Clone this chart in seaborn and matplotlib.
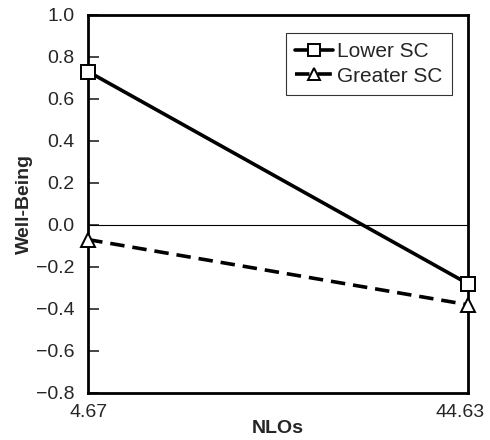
import numpy as np
import pandas as pd
import matplotlib
matplotlib.use("Agg")
import matplotlib.pyplot as plt
import matplotlib.transforms as mtransforms
import seaborn as sns

nlos = [4.67, 44.63]
lower_sc = [0.73, -0.28]
greater_sc = [-0.07, -0.38]
groups = ["Lower SC", "Greater SC"]
yticks = [-0.8, -0.6, -0.4, -0.2, 0.0, 0.2, 0.4, 0.6, 0.8, 1.0]

df = pd.DataFrame({
    "NLOs": nlos * 2,
    "Well-Being": lower_sc + greater_sc,
    "group": [groups[0]] * 2 + [groups[1]] * 2,
})

sns.set_style("ticks")
plt.rcParams["font.family"] = ["Liberation Sans", "DejaVu Sans"]

fig = plt.figure(figsize=(4.9, 4.4), dpi=100)
ax = fig.add_axes([0.18, 0.107, 0.775, 0.859])

ax.axhline(0, color="black", lw=0.8, zorder=1)

styles = {
    "Lower SC": dict(marker="s", linestyle="-"),
    "Greater SC": dict(marker="^", linestyle=(0, (4, 2.2))),
}
for g in groups:
    sub = df[df["group"] == g]
    sns.lineplot(data=sub, x="NLOs", y="Well-Being", ax=ax, color="black",
                 lw=2.6, markersize=10, markerfacecolor="white",
                 markeredgecolor="black", markeredgewidth=1.4,
                 label=g, clip_on=False, zorder=3, **styles[g])

ax.set_xlim(nlos[0], nlos[1])
ax.set_ylim(-0.8, 1.0)
ax.set_xticks(nlos)
ax.set_xticklabels([f"{v:.2f}" for v in nlos])
ax.set_yticks(yticks)
ax.set_yticklabels([f"{v:.1f}".replace("-", "\u2212") for v in yticks])
ax.tick_params(axis="y", direction="in", length=8, width=1.2, labelsize=14, pad=10)
ax.tick_params(axis="x", length=0, labelsize=14, pad=8)
# nudge the right x label inward a bit, as in the original
shift = mtransforms.ScaledTranslation(-8 / 100, 0, fig.dpi_scale_trans)
lab = ax.get_xticklabels()[1]
lab.set_transform(lab.get_transform() + shift)
for s in ax.spines.values():
    s.set_linewidth(2)
    s.set_color("black")

ax.set_xlabel("NLOs", fontsize=14, fontweight="bold", labelpad=-1)
ax.set_ylabel("Well-Being", fontsize=14, fontweight="bold", labelpad=2)

leg = ax.legend(loc="upper right", fontsize=15, frameon=True, fancybox=False,
                handlelength=1.8, handletextpad=0.2, borderpad=0.45,
                labelspacing=0.25, bbox_to_anchor=(0.985, 0.98), markerscale=0.8)
leg.get_frame().set_edgecolor("black")
leg.get_frame().set_linewidth(0.8)

fig.savefig("out.png", dpi=100)
plt.close(fig)
